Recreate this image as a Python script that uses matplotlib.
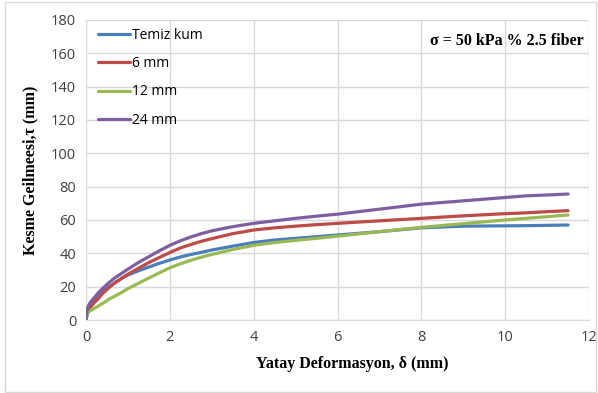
import matplotlib
matplotlib.use('Agg')
import matplotlib.pyplot as plt
from matplotlib.patches import Rectangle

# horizontal displacement (mm)
delta = [0, 0.02, 0.05, 0.1, 0.2, 0.3, 0.4, 0.55, 0.7, 0.85, 1.0, 1.25, 1.5,
         1.75, 2, 2.25, 2.5, 2.75, 3, 3.5, 4, 4.5, 5, 5.5, 6, 7, 8, 9, 10,
         10.5, 11, 11.5]

# shear stress curves
temiz_kum = [0, 4, 6.5, 9, 12, 14.5, 17, 20, 22.5, 25, 27, 29.5, 31.8, 34, 36,
             37.8, 39.3, 40.6, 42, 44.3, 46.5, 48, 49, 50, 51, 53, 55.3, 56.3,
             56.5, 56.6, 56.8, 57]
fiber_6mm = [0, 2.5, 5, 7.5, 10.5, 13, 16, 19.5, 22.5, 25, 27.5, 31, 34.5,
             37.5, 40.5, 43.2, 45.3, 47.2, 48.8, 51.8, 54, 55.3, 56.3, 57.2, 58,
             59.5, 61, 62.5, 63.8, 64.3, 65, 65.6]
fiber_12mm = [0, 3.5, 4.5, 5.5, 7, 8.5, 10, 12.5, 14.5, 16.5, 18.8, 22, 25.2,
              28.3, 31.3, 33.7, 35.8, 37.7, 39.3, 42.3, 44.8, 46.5, 47.8, 49,
              50.3, 53, 55.6, 57.8, 60, 61, 62, 63]
fiber_24mm = [0, 5, 8, 10.5, 13.5, 16.5, 19, 22.5, 25.5, 28, 30.5, 34.5, 38,
              41.5, 44.8, 47.5, 49.8, 51.8, 53.5, 56, 58, 59.5, 61, 62.3, 63.5,
              66.5, 69.5, 71.5, 73.5, 74.5, 75, 75.6]

series = [('Temiz kum', temiz_kum, '#4a7ebb'),
          ('6 mm', fiber_6mm, '#be4b48'),
          ('12 mm', fiber_12mm, '#98b954'),
          ('24 mm', fiber_24mm, '#7d5fa0')]

fig = plt.figure(figsize=(5.98, 3.93), dpi=100)
ax = fig.add_axes([86 / 598, 1 - 320 / 393, (589 - 86) / 598, 300 / 393])

# light frame around the whole chart
fig.patches.append(Rectangle((5 / 598, 1 / 393), 591 / 598, 390 / 393,
                             transform=fig.transFigure, fill=False,
                             edgecolor='#d9d9d9', lw=1))

for name, vals, col in series:
    ax.plot(delta, vals, color=col, lw=2.3, label=name, solid_capstyle='round')

ax.set_xlim(0, 12)
ax.set_ylim(0, 180)
ax.set_xticks(range(0, 13, 2))
ax.set_yticks(range(0, 181, 20))
ax.grid(True, color='#d9d9d9', lw=1)
ax.set_axisbelow(True)
for s in ['top', 'right', 'left']:
    ax.spines[s].set_visible(False)
ax.spines['bottom'].set_color('#d9d9d9')
ax.tick_params(length=0, labelsize=10.5, colors='#404040', pad=7)
for lab in ax.get_xticklabels() + ax.get_yticklabels():
    lab.set_fontfamily('Open Sans')

serif = {'family': 'Liberation Serif', 'weight': 'bold', 'size': 11.5}
ax.set_xlabel('Yatay Deformasyon, δ (mm)', fontdict=serif)
ax.xaxis.set_label_coords(0.53, -0.12)
ax.set_ylabel('Kesme Geilmeesi,τ (mm)', fontdict=serif)
ax.yaxis.set_label_coords(-0.095, 0.5)
ax.text(0.99, 0.93, 'σ = 50 kPa % 2.5 fiber', transform=ax.transAxes,
        ha='right', va='center', fontdict=serif)

ax.legend(loc='upper left', bbox_to_anchor=(0.0, 1.015), frameon=False,
          handlelength=2.3, handletextpad=0.1, labelspacing=0.95,
          prop={'family': 'Open Sans', 'size': 10})

fig.savefig('out.png', dpi=100)
